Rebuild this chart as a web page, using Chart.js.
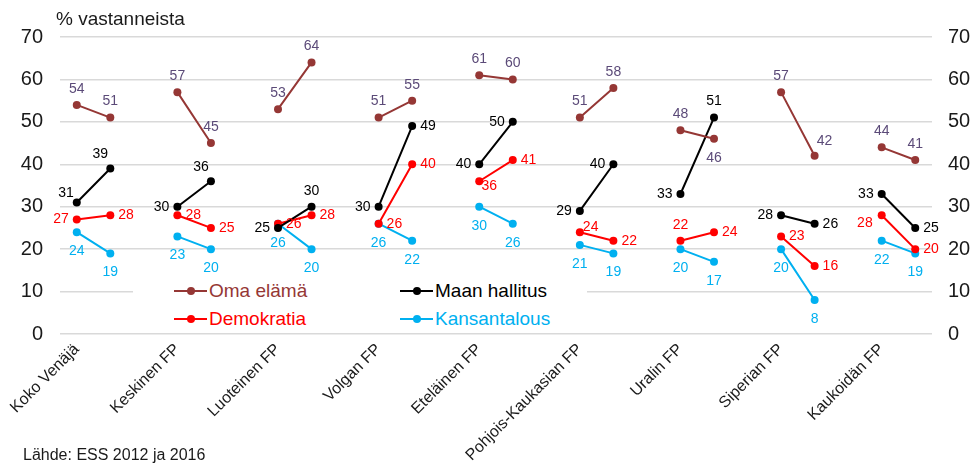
<!DOCTYPE html>
<html><head><meta charset="utf-8">
<script src="https://cdn.jsdelivr.net/npm/chart.js@4.4.1/dist/chart.umd.min.js"></script>
<style>
html,body{margin:0;padding:0;background:#fff;}
#wrap{position:relative;width:980px;height:467px;font-family:"Liberation Sans",Arial,sans-serif;overflow:hidden;}
#c{position:absolute;left:0;top:0;}
.title{position:absolute;left:56px;top:8px;font-size:19px;line-height:22px;color:#1a1a1a;white-space:nowrap;}
.src{position:absolute;left:23px;top:445px;font-size:16px;line-height:20px;color:#1a1a1a;white-space:nowrap;}
.legend{position:absolute;left:133px;top:277px;width:454px;height:54px;background:#fff;}
.item{position:absolute;font-size:19px;line-height:22px;height:22px;display:flex;align-items:center;white-space:nowrap;}
.mk{position:relative;width:33px;height:2px;margin-right:2px;}
.dot{position:absolute;left:12.5px;top:-3px;width:8px;height:8px;border-radius:50%;}
</style></head>
<body>
<div id="wrap">
<canvas id="c" width="980" height="467"></canvas>
<div class="title">% vastanneista</div>
<div class="src">Lähde: ESS 2012 ja 2016</div>
<div class="legend" id="legend"></div>
</div>
<script>
// ---- data ----
const categories = ['Koko Venäjä','Keskinen FP','Luoteinen FP','Volgan FP','Eteläinen FP','Pohjois-Kaukasian FP','Uralin FP','Siperian FP','Kaukoidän FP'];
const seriesNames = ['Oma elämä','Maan hallitus','Demokratia','Kansantalous'];
const omaElama2012 = [54,57,53,51,61,51,48,57,44];
const omaElama2016 = [51,45,64,55,60,58,46,42,41];
const maanHallitus2012 = [31,30,25,30,40,29,33,28,33];
const maanHallitus2016 = [39,36,30,49,50,40,51,26,25];
const demokratia2012 = [27,28,26,26,36,24,22,23,28];
const demokratia2016 = [28,25,28,40,41,22,24,16,20];
const kansantalous2012 = [24,23,26,26,30,21,20,20,22];
const kansantalous2016 = [19,20,20,22,26,19,17,8,19];
const yTicks = [0,10,20,30,40,50,60,70];

// ---- styles ----
const lineColors = ['#953735','#000000','#FF0000','#00B0F0'];
const labelColors = ['#5B4A78','#000000','#FF0000','#00B0F0'];
// label placement codes (2012 / 2016)
const omaPos2012 = ['T','T','T','T','T','T','T','T','T'];
const omaPos2016 = ['T','T','T','T','T','T','B','TR','T'];
const maanPos2012 = ['TL','L','L','L','L','L','L','L','L'];
const maanPos2016 = ['TC','TC','T','R','L','L','T','R','R'];
const demoPos2012 = ['L','R','R','R','BR','RU','T','R','BL'];
const demoPos2016 = ['R','R','R','R','R','R','R','R','R'];
const kansPos2012 = ['B','B','B','B','B','B','B','B','B'];
const kansPos2016 = ['B','B','B','B','B','B','B','B','B'];
const placement = {
  T:{dx:0,dy:-16,align:'center'}, B:{dx:0,dy:19,align:'center'},
  L:{dx:-8,dy:0,align:'right'}, R:{dx:8,dy:0,align:'left'},
  TL:{dx:-3,dy:-9,align:'right'}, TC:{dx:-10,dy:-14,align:'center'},
  TR:{dx:10,dy:-15,align:'center'}, BR:{dx:10,dy:5,align:'center'},
  BL:{dx:-9,dy:8,align:'right'}, RU:{dx:3,dy:-5,align:'left'}
};

// ---- build structures ----
const n = categories.length;
const xLabels = [];
categories.forEach((c,i)=>{ xLabels.push(c,''); if(i<n-1) xLabels.push(''); });
function spread(a,b){ const out=[]; for(let i=0;i<n;i++){ out.push(a[i],b[i]); if(i<n-1) out.push(null);} return out; }
const seriesData = [
  spread(omaElama2012,omaElama2016),
  spread(maanHallitus2012,maanHallitus2016),
  spread(demokratia2012,demokratia2016),
  spread(kansantalous2012,kansantalous2016)
];
const seriesPos = [
  spread(omaPos2012,omaPos2016),
  spread(maanPos2012,maanPos2016),
  spread(demoPos2012,demoPos2016),
  spread(kansPos2012,kansPos2016)
];

const FONT = '"Liberation Sans", Arial, sans-serif';

const labelPlugin = {
  id:'pointLabels',
  afterDatasetsDraw(chart){
    const ctx = chart.ctx;
    ctx.save();
    ctx.font = '14px ' + FONT;
    ctx.textBaseline = 'middle';
    chart.data.datasets.forEach((ds,di)=>{
      const meta = chart.getDatasetMeta(di);
      meta.data.forEach((pt,j)=>{
        const v = ds.data[j];
        if(v===null || v===undefined) return;
        const p = placement[seriesPos[di][j]];
        ctx.fillStyle = labelColors[di];
        ctx.textAlign = p.align;
        ctx.fillText(String(v), pt.x + p.dx, pt.y + p.dy);
      });
    });
    ctx.restore();
  }
};

new Chart(document.getElementById('c'), {
  type:'line',
  data:{
    labels:xLabels,
    datasets: seriesNames.map((name,i)=>({
      label:name,
      data:seriesData[i],
      borderColor:lineColors[i],
      backgroundColor:lineColors[i],
      pointBackgroundColor:lineColors[i],
      pointBorderColor:lineColors[i],
      pointBorderWidth:0,
      pointRadius:4,
      borderWidth:2,
      spanGaps:false,
      tension:0,
      yAxisID:'y'
    }))
  },
  options:{
    responsive:false,
    animation:false,
    events:[],
    layout:{padding:{top:37,left:0,right:0,bottom:0}},
    plugins:{legend:{display:false},tooltip:{enabled:false}},
    scales:{
      x:{
        type:'category',
        offset:true,
        grid:{display:false,drawTicks:false},
        border:{display:false},
        ticks:{autoSkip:false,minRotation:45,maxRotation:45,padding:6,color:'#1a1a1a',font:{size:16,family:FONT}},
        afterFit(s){ s.height = 133; }
      },
      y:{
        position:'left',
        min:0,max:70,
        afterBuildTicks(s){ s.ticks = yTicks.map(v=>({value:v})); },
        grid:{color:'#D9D9D9',lineWidth:1.5,drawTicks:false},
        border:{display:false},
        ticks:{padding:17,color:'#1a1a1a',font:{size:20,family:FONT}},
        afterFit(s){ s.width = 60; }
      },
      y2:{
        position:'right',
        min:0,max:70,
        afterBuildTicks(s){ s.ticks = yTicks.map(v=>({value:v})); },
        grid:{display:false,drawTicks:false},
        border:{display:false},
        ticks:{padding:16,color:'#1a1a1a',font:{size:20,family:FONT}},
        afterFit(s){ s.width = 48; }
      }
    }
  },
  plugins:[labelPlugin]
});

// ---- legend (HTML) ----
const legendPos = [[41,3],[267,3],[41,31],[267,31]];
const legend = document.getElementById('legend');
seriesNames.forEach((name,i)=>{
  const it = document.createElement('div');
  it.className='item';
  it.style.left = legendPos[i][0]+'px';
  it.style.top = legendPos[i][1]+'px';
  it.style.color = lineColors[i]==='#953735' ? '#953735' : lineColors[i];
  const mk = document.createElement('span');
  mk.className='mk'; mk.style.background = lineColors[i];
  const dot = document.createElement('span');
  dot.className='dot'; dot.style.background = lineColors[i];
  mk.appendChild(dot);
  const tx = document.createElement('span'); tx.textContent = name;
  it.appendChild(mk); it.appendChild(tx);
  legend.appendChild(it);
});
</script>
</body></html>
